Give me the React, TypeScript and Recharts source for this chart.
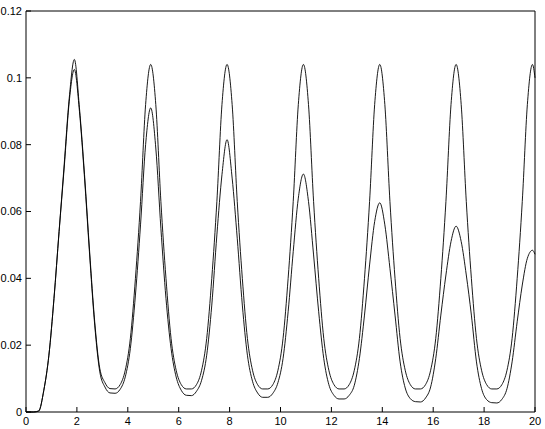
import { LineChart, Line, XAxis, YAxis } from "recharts";

// sample times (every 0.2 on the odd tenths so every peak is hit)
const time = [
  0, 0.1, 0.3, 0.5, 0.7, 0.9, 1.1, 1.3, 1.5, 1.7, 1.9, 2.1, 2.3, 2.5, 2.7, 2.9, 3.1, 3.3,
  3.5, 3.7, 3.9, 4.1, 4.3, 4.5, 4.7, 4.9, 5.1, 5.3, 5.5, 5.7, 5.9, 6.1, 6.3,
  6.5, 6.7, 6.9, 7.1, 7.3, 7.5, 7.7, 7.9, 8.1, 8.3, 8.5, 8.7, 8.9, 9.1, 9.3,
  9.5, 9.7, 9.9, 10.1, 10.3, 10.5, 10.7, 10.9, 11.1, 11.3, 11.5, 11.7, 11.9, 12.1, 12.3,
  12.5, 12.7, 12.9, 13.1, 13.3, 13.5, 13.7, 13.9, 14.1, 14.3, 14.5, 14.7, 14.9, 15.1, 15.3,
  15.5, 15.7, 15.9, 16.1, 16.3, 16.5, 16.7, 16.9, 17.1, 17.3, 17.5, 17.7, 17.9, 18.1, 18.3,
  18.5, 18.7, 18.9, 19.1, 19.3, 19.5, 19.7, 19.9, 20,
];

const upper = [
  0, 0, 0, 0.0003, 0.0065, 0.017, 0.034, 0.054, 0.074, 0.094, 0.1055, 0.091, 0.071, 0.048, 0.027, 0.013, 0.0088, 0.007,
  0.0069, 0.0082, 0.0125, 0.022, 0.04, 0.063, 0.092, 0.104, 0.092, 0.063, 0.04, 0.022, 0.0125, 0.0082, 0.0069,
  0.0069, 0.0082, 0.0125, 0.022, 0.04, 0.063, 0.092, 0.104, 0.092, 0.063, 0.04, 0.022, 0.0125, 0.0082, 0.0069,
  0.0069, 0.0082, 0.0125, 0.022, 0.04, 0.063, 0.092, 0.104, 0.092, 0.063, 0.04, 0.022, 0.0125, 0.0082, 0.0069,
  0.0069, 0.0082, 0.0125, 0.022, 0.04, 0.063, 0.092, 0.104, 0.092, 0.063, 0.04, 0.022, 0.0125, 0.0082, 0.0069,
  0.0069, 0.0082, 0.0125, 0.022, 0.04, 0.063, 0.092, 0.104, 0.092, 0.063, 0.04, 0.022, 0.0125, 0.0082, 0.0069,
  0.0069, 0.0082, 0.0125, 0.022, 0.04, 0.063, 0.092, 0.104, 0.1,
];

const lower = [
  0, 0, 0, 0.0003, 0.0065, 0.017, 0.034, 0.054, 0.073, 0.093, 0.1025, 0.09, 0.07, 0.047, 0.026, 0.012, 0.0075, 0.0057,
  0.0056, 0.0068, 0.0105, 0.019, 0.035, 0.056, 0.08, 0.091, 0.079, 0.055, 0.034, 0.019, 0.0105, 0.0065, 0.005,
  0.0049, 0.0062, 0.0095, 0.017, 0.032, 0.053, 0.071, 0.0815, 0.07, 0.052, 0.032, 0.017, 0.0092, 0.0057, 0.0044,
  0.0044, 0.0056, 0.0088, 0.016, 0.03, 0.048, 0.064, 0.0712, 0.063, 0.047, 0.03, 0.016, 0.0082, 0.005, 0.0039,
  0.0039, 0.005, 0.008, 0.016, 0.029, 0.044, 0.057, 0.0626, 0.056, 0.043, 0.029, 0.015, 0.0072, 0.004, 0.0031,
  0.003, 0.0042, 0.0075, 0.016, 0.029, 0.041, 0.051, 0.0556, 0.051, 0.041, 0.029, 0.015, 0.007, 0.0037, 0.0028,
  0.0027, 0.0038, 0.007, 0.015, 0.027, 0.038, 0.046, 0.0484, 0.0472,
];

const xTicks = [0, 2, 4, 6, 8, 10, 12, 14, 16, 18, 20];
const yTicks = [0, 0.02, 0.04, 0.06, 0.08, 0.1, 0.12];

const data = time.map((t, i) => ({ t, upper: upper[i], lower: lower[i] }));

const tickStyle = { fontSize: 11, fill: "#000", fontFamily: "Liberation Sans, Arial, sans-serif" };
const axisStroke = { stroke: "#000" };

export default function App() {
  return (
    <div style={{ position: "absolute", left: 0, top: 0 }}>
      <LineChart
        width={545}
        height={429}
        data={data}
        margin={{ top: 10, right: 9, bottom: 0, left: 0 }}
      >
        <XAxis
          dataKey="t"
          type="number"
          domain={[0, 20]}
          ticks={xTicks}
          height={17}
          tickSize={-5}
          tickMargin={10}
          tick={tickStyle}
          axisLine={axisStroke}
          tickLine={axisStroke}
          interval={0}
        />
        <XAxis
          xAxisId="top"
          orientation="top"
          dataKey="t"
          type="number"
          domain={[0, 20]}
          ticks={xTicks}
          height={1}
          tickSize={-5}
          tick={false}
          axisLine={axisStroke}
          tickLine={axisStroke}
          interval={0}
        />
        <YAxis
          type="number"
          domain={[0, 0.12]}
          ticks={yTicks}
          width={26}
          tickSize={-5}
          tickMargin={9}
          tick={tickStyle}
          axisLine={axisStroke}
          tickLine={axisStroke}
          interval={0}
        />
        <YAxis
          yAxisId="right"
          orientation="right"
          type="number"
          domain={[0, 0.12]}
          ticks={yTicks}
          width={1}
          tickSize={-5}
          tick={false}
          axisLine={axisStroke}
          tickLine={axisStroke}
          interval={0}
        />
        <Line
          type="monotone"
          dataKey="upper"
          stroke="#000"
          strokeWidth={0.9}
          dot={false}
          isAnimationActive={false}
        />
        <Line
          type="monotone"
          dataKey="lower"
          xAxisId="top"
          yAxisId="right"
          stroke="#000"
          strokeWidth={0.9}
          dot={false}
          isAnimationActive={false}
        />
      </LineChart>
    </div>
  );
}
